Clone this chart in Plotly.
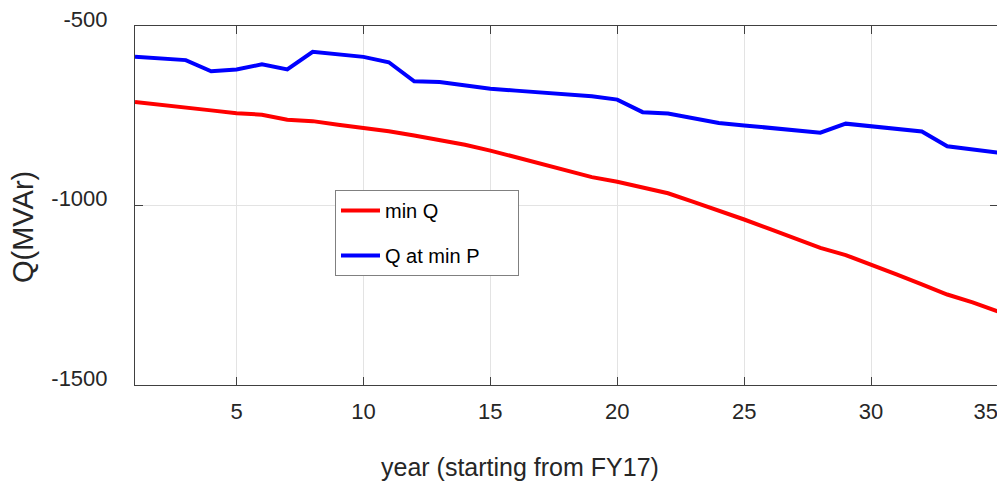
import plotly.graph_objects as go

years = list(range(1, 36))
min_q = [-712, -719, -727, -735, -743, -747, -761, -765, -775, -783,
         -793, -805, -817, -831, -847, -865, -884, -903, -921, -934,
         -949, -966, -990, -1014, -1039, -1065, -1092, -1118, -1138, -1164,
         -1192, -1220, -1248, -1270, -1295]
q_at_min_p = [-586, -590, -595, -626, -621, -607, -621, -572, -578, -586,
              -601, -654, -656, -666, -675, -680, -686, -691, -696, -705,
              -740, -744, -758, -770, -777, -784, -790, -797, -772, -779,
              -786, -794, -835, -844, -853]
x_ticks = [5, 10, 15, 20, 25, 30, 35]
NB = "\u00a0"
x_labels = ["5", "10", "15", "20", "25", "30", "35" + NB * 4]
y_ticks = [-1500, -1000, -500]
y_labels = ["-1500", "-1000", "-500"]

FONT = "Liberation Sans, Arial, sans-serif"
TXT = "#262626"

# page body has an 8px margin; figure is sized so it fills the rest of the window
OFF = 8
W, H = 1005 - OFF, 485 - OFF
L, T = 135 - OFF, 26 - OFF
PW = 998 - 135
PH = 385 - 26

fig = go.Figure()
fig.add_trace(go.Scatter(x=years, y=min_q, mode="lines", name="min Q",
                         line=dict(color="#ff0000", width=4), legendgroup="a"))
fig.add_trace(go.Scatter(x=years, y=q_at_min_p, mode="lines", name="Q at min P" + NB * 6,
                         line=dict(color="#0000ff", width=4), legendgroup="b"))

axis_common = dict(showline=True, linecolor="#404040", linewidth=1, mirror="ticks",
                   ticks="inside", ticklen=8, tickcolor="#404040", showgrid=True,
                   gridcolor="#e3e3e3", gridwidth=1, zeroline=False, automargin=False,
                   ticklabeloverflow="allow",
                   tickfont=dict(family=FONT, size=22, color=TXT))

fig.update_xaxes(range=[1, 35], tickvals=x_ticks, ticktext=x_labels,
                 ticklabelstandoff=7, **axis_common)
fig.update_yaxes(range=[-1500, -500], tickvals=y_ticks, ticktext=y_labels,
                 ticklabelstandoff=22, ticklabelshift=-7, **axis_common)

fig.add_annotation(text="year (starting from FY17)", xref="paper", yref="paper",
                   x=(520 - 135) / PW, y=-(467 - 385) / PH, showarrow=False,
                   font=dict(family=FONT, size=25, color=TXT), xanchor="center", yanchor="middle")
fig.add_annotation(text="Q(MVAr)", xref="paper", yref="paper",
                   x=-(135 - 23) / PW, y=(385 - 227) / PH, showarrow=False, textangle=-90,
                   font=dict(family=FONT, size=29, color=TXT), xanchor="center", yanchor="middle")

fig.update_layout(
    width=W, height=H,
    margin=dict(l=L, r=W - L - PW, t=T, b=H - T - PH, autoexpand=False),
    paper_bgcolor="white", plot_bgcolor="white",
    showlegend=True,
    legend=dict(x=(335 - 135) / PW, y=(385 - 190) / PH, xanchor="left", yanchor="top",
                bgcolor="white", bordercolor="#808080", borderwidth=1,
                font=dict(family=FONT, size=20, color="#000000"),
                tracegroupgap=16, itemwidth=39),
    font=dict(family=FONT, color=TXT),
)

fig.write_html("out.html")
